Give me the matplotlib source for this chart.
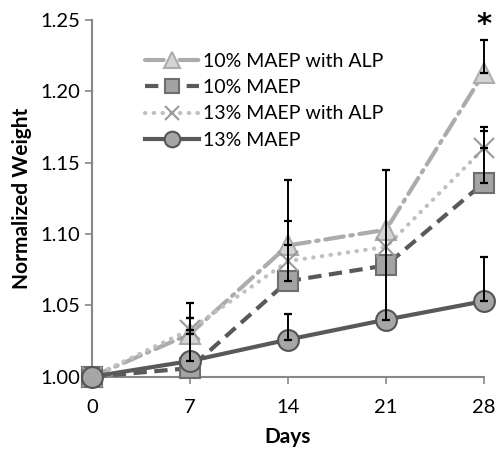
import matplotlib
matplotlib.use('Agg')
import matplotlib.pyplot as plt
import numpy as np

days = [0, 7, 14, 21, 28]

alp10 = [1.000, 1.030, 1.092, 1.103, 1.213]
alp10_err = [0.0, 0.022, 0.046, 0.0, 0.023]
maep10 = [1.000, 1.006, 1.067, 1.078, 1.136]
maep10_err = [0.0, 0.0, 0.042, 0.0, 0.036]
alp13 = [1.000, 1.033, 1.081, 1.091, 1.160]
alp13_err = [0.0, 0.008, 0.0, 0.0, 0.015]
maep13 = [1.000, 1.011, 1.026, 1.040, 1.053]
maep13_err = [0.0, 0.030, 0.018, 0.105, 0.031]

labels = ['10% MAEP with ALP', '10% MAEP', '13% MAEP with ALP', '13% MAEP']

plt.rcParams['font.family'] = ['Lato', 'DejaVu Sans']

fig = plt.figure(figsize=(4.96, 4.51), dpi=100)
ax = fig.add_axes([0.1855, 0.1647, 0.7903, 0.791])

ax.plot(days, alp10, color='#acacac', lw=3, dashes=(4.5, 1.6, 0.6, 1.6),
        dash_capstyle='round', marker='^', ms=15, mfc='#d4d4d4', mec='#acacac',
        mew=1.5, label=labels[0], clip_on=False, zorder=3)
ax.plot(days, maep10, color='#595959', lw=3, dashes=(3.2, 1.8),
        marker='s', ms=14, mfc='#a3a3a3', mec='#6e6e6e', mew=1.5,
        label=labels[1], clip_on=False, zorder=3)
ax.plot(days, alp13, color='#c0c0c0', lw=3, dashes=(0.1, 2.0),
        dash_capstyle='round', marker='x', ms=14, mec='#9a9a9a', mew=1.5,
        label=labels[2], clip_on=False, zorder=3)
ax.plot(days, maep13, color='#595959', lw=3, marker='o', ms=15,
        mfc='#a6a6a6', mec='#555555', mew=1.5, label=labels[3],
        clip_on=False, zorder=3)

# upper error bars only, skip points without a visible bar
for vals, err in [(alp10, alp10_err), (maep10, maep10_err),
                  (alp13, alp13_err), (maep13, maep13_err)]:
    x = [d for d, e in zip(days, err) if e > 0]
    y = [v for v, e in zip(vals, err) if e > 0]
    e = [e for e in err if e > 0]
    ax.errorbar(x, y, yerr=[np.zeros(len(e)), e], fmt='none',
                ecolor='black', elinewidth=1.4, capsize=3, capthick=1.6,
                zorder=4, clip_on=False)

ax.text(28, 1.237, '*', ha='center', va='bottom', fontsize=21,
        fontweight='bold', family='DejaVu Sans', zorder=5)

ax.set_xlim(0, 28)
ax.set_ylim(1.00, 1.25)
ax.set_xticks(days)
ax.set_yticks([1.00, 1.05, 1.10, 1.15, 1.20, 1.25])
ax.set_yticklabels(['%.2f' % v for v in [1.00, 1.05, 1.10, 1.15, 1.20, 1.25]])
ax.tick_params(labelsize=14.5, color='#888888', length=5, width=1.2)
ax.tick_params(axis='x', pad=11)
ax.set_xlabel('Days', fontsize=15, fontweight='bold', labelpad=8)
ax.set_ylabel('Normalized Weight', fontsize=15, fontweight='bold', labelpad=6)

for s in ['top', 'right']:
    ax.spines[s].set_visible(False)
for s in ['left', 'bottom']:
    ax.spines[s].set_color('#888888')
    ax.spines[s].set_linewidth(1.5)

ax.legend(loc='upper left', bbox_to_anchor=(0.115, 0.93), frameon=False,
          fontsize=14, handlelength=2.8, handletextpad=0.2, markerscale=0.75,
          labelspacing=0.48, borderaxespad=0)

fig.savefig('out.png', dpi=100)
